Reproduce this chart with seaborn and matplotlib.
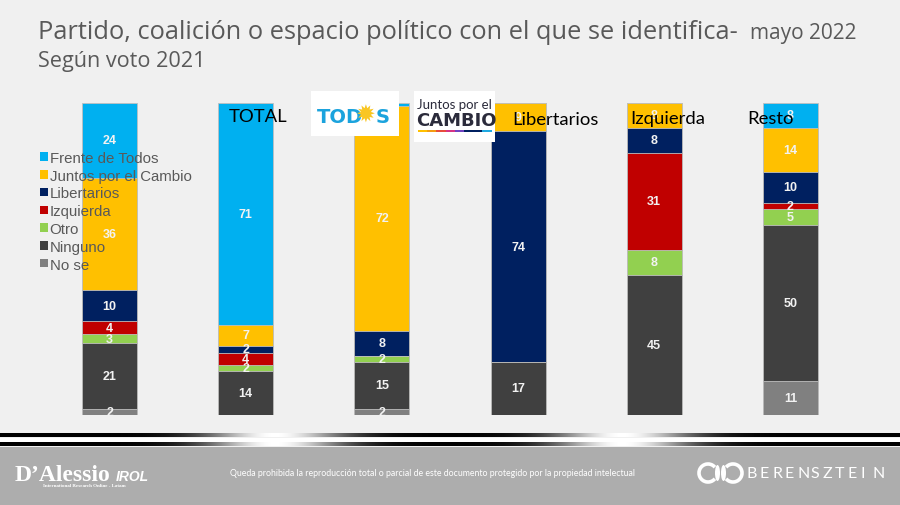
import numpy as np
import pandas as pd
import matplotlib
matplotlib.use("Agg")
import matplotlib.pyplot as plt
import seaborn as sns
from matplotlib.patches import Patch, Rectangle, Arc, Ellipse

# ---------------------------
# Data
# ---------------------------
groups = ["TOTAL", "Frente de Todos", "Juntos por el Cambio", "Libertarios", "Izquierda", "Resto"]
parties = ["Frente de Todos", "Juntos por el Cambio", "Libertarios", "Izquierda", "Otro", "Ninguno", "No se"]

frente = [24, 71, 1, 0, 0, 8]
juntos = [36, 7, 72, 9, 8, 14]
libertarios = [10, 2, 8, 74, 8, 10]
izquierda = [4, 4, 0, 0, 31, 2]
otro = [3, 2, 2, 0, 8, 5]
ninguno = [21, 14, 15, 17, 45, 50]
no_se = [2, 0, 2, 0, 0, 11]

colors = ["#00b0f0", "#ffc000", "#002060", "#c00000", "#92d050", "#404040", "#808080"]
bg = "#f0f0f0"
grey_txt = "#595959"

df = pd.DataFrame(
    [frente, juntos, libertarios, izquierda, otro, ninguno, no_se],
    index=parties, columns=groups,
)

# ---------------------------
# Figure
# ---------------------------
sns.set_theme(style="white")
plt.rcParams["font.family"] = ["Liberation Sans", "DejaVu Sans"]
title_font = ["Open Sans", "DejaVu Sans"]

fig = plt.figure(figsize=(9, 5.06), dpi=100, facecolor=bg)

# background decoration (footer band + stripes) in pixel coords
ax_bg = fig.add_axes([0, 0, 1, 1], zorder=0)
ax_bg.set_xlim(0, 900)
ax_bg.set_ylim(506, 0)
ax_bg.axis("off")
ax_bg.add_patch(Rectangle((0, 447.5), 900, 60, color="#adadad", lw=0))
xs = np.linspace(0, 900, 900)
glow = np.maximum(np.exp(-((xs - 275) / 70) ** 2), np.exp(-((xs - 623) / 70) ** 2))
strip = np.tile(glow, (2, 1))
ax_bg.imshow(strip, cmap="gray", vmin=0, vmax=1, aspect="auto",
             extent=(0, 900, 438.5, 434.5), interpolation="bilinear")
ax_bg.imshow(strip, cmap="gray", vmin=0, vmax=1, aspect="auto",
             extent=(0, 900, 447.5, 443), interpolation="bilinear")
ax_bg.add_patch(Rectangle((0, 438.5), 900, 4.5, color="white", lw=0))

# stacked bars: draw cumulative totals from the top layer down
ax = fig.add_axes([0.0461, 0.1779, 0.9078, 0.6166], zorder=1)
ax.patch.set_alpha(0)
cum = df[::-1].cumsum()[::-1]  # cumulative from the bottom (No se) up
for party, col in zip(parties, colors):
    sns.barplot(x=groups, y=cum.loc[party].values, order=groups, color=col,
                width=0.404, edgecolor="#bfbfbf", linewidth=0.6, ax=ax,
                saturation=1)

# value labels at segment centres
for j, g in enumerate(groups):
    for party in parties:
        v = df.loc[party, g]
        if v < 2:
            continue
        top = cum.loc[party, g]
        ax.text(j, top - v / 2, f"{v}", ha="center", va="center",
                color="#f2f2f2", fontsize=9, fontweight="bold")

ax.set_xlim(-0.5, 5.5)
ax.set_ylim(0, 100)
ax.axis("off")

# legend overlapping first bar
handles = [Patch(facecolor=c, edgecolor="none") for c in colors]
fig.legend(handles, parties, loc="upper left", bbox_to_anchor=(40 / 900, 1 - 152 / 506),
           frameon=False, fontsize=10.8, labelcolor=grey_txt, handlelength=0.5,
           handleheight=0.5, handletextpad=0.15, labelspacing=0.25,
           borderpad=0, borderaxespad=0)

# ---------------------------
# Titles
# ---------------------------
fig.text(38 / 900, 1 - 39 / 506, "Partido, coalición o espacio político con el que se identifica-",
         fontsize=18.3, color=grey_txt, va="baseline", family=title_font)
fig.text(750 / 900, 1 - 39 / 506, "mayo 2022", fontsize=15, color=grey_txt, va="baseline",
         family=title_font)
fig.text(38 / 900, 1 - 66.5 / 506, "Según voto 2021", fontsize=15.6, color=grey_txt, va="baseline",
         family=title_font)

# group labels
for x, y, s in [(229, 117, "TOTAL"), (512, 120, "Libertarios"), (630, 119, "Izquierda"), (747, 119, "Resto")]:
    fig.text(x / 900, 1 - y / 506, s, fontsize=13.3, color="black", va="center",
             family=["Lato", "DejaVu Sans"], zorder=5)

# party logos
ax_fg = fig.add_axes([0, 0, 1, 1], zorder=3)
ax_fg.set_xlim(0, 900)
ax_fg.set_ylim(506, 0)
ax_fg.axis("off")
ax_fg.add_patch(Rectangle((311, 92), 88, 45, color="white", lw=0))
ax_fg.text(317, 117, "TOD", color="#1ba3dd", fontsize=14, fontweight="bold", va="center",
           family="DejaVu Sans")
ax_fg.text(355, 116, "✹", color="#f9c623", fontsize=17, va="center", family="DejaVu Sans")
ax_fg.text(376, 117, "S", color="#1ba3dd", fontsize=14, fontweight="bold", va="center",
           family="DejaVu Sans")
ax_fg.add_patch(Rectangle((414, 92), 81, 51, color="white", lw=0))
ax_fg.text(417, 105, "Juntos por el", color="#2b2b3b", fontsize=9.5, va="center",
           family=["Lato", "DejaVu Sans"])
ax_fg.text(416, 121, "CAMBIO", color="#2b2b3b", fontsize=13, fontweight="bold", va="center",
           family="DejaVu Sans")
stripe_cols = ["#ffc000", "#f39c12", "#e74c3c", "#d63384", "#6f42c1", "#002060", "#002060", "#1fa9e1"]
for k, c in enumerate(stripe_cols):
    ax_fg.add_patch(Rectangle((418 + k * 9.2, 131), 9.2, 2.2, color=c, lw=0))

# ---------------------------
# Footer
# ---------------------------
ax_fg.text(15, 481, "D’Alessio", color="white", fontsize=17, fontweight="bold", va="baseline",
           family="Liberation Serif")
ax_fg.text(116, 481, "IROL", color="white", fontsize=10, fontweight="bold", style="italic",
           va="baseline", family="Liberation Sans")
ax_fg.text(43, 486.5, "International Research Online - Latam", color="white", fontsize=3.6,
           fontweight="bold", va="center", family="Liberation Serif")
ax_fg.text(432, 474, "Queda prohibida la reproducción total o parcial de este documento protegido por la propiedad intelectual",
           color="white", fontsize=6.3, ha="center", va="center", family=["Lato", "DejaVu Sans"])
# Berensztein mark
ax_fg.add_patch(Arc((708, 474), 18, 18, theta1=40, theta2=320, color="white", lw=2.6))
ax_fg.add_patch(Arc((733, 474), 18, 18, theta1=-140, theta2=140, color="white", lw=2.6))
ax_fg.add_patch(Ellipse((717.5, 474), 5, 16, color="white", lw=0))
ax_fg.add_patch(Ellipse((723.5, 474), 5, 16, color="white", lw=0))
for k, ch in enumerate("BERENSZTEIN"):
    ax_fg.text(747 + k * 12.6, 474, ch, color="white", fontsize=11.5, va="center",
               family=["Lato", "DejaVu Sans"])

fig.savefig("out.png", dpi=100, facecolor=bg)
